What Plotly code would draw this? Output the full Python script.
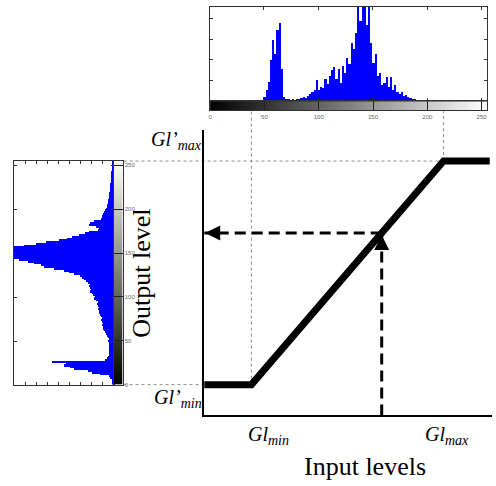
import numpy as np
import plotly.graph_objects as go

# ---------------- data ----------------
# Gray-level scale (0..255) shared by both histograms and the transfer curve
gray_levels = list(range(256))

# Input-image histogram (top): 2-level bins, height in % of the axis box
top_bin_start = list(range(46, 212, 2))
top_counts = [0.5, 2, 5, 12, 21, 44, 65, 50, 76, 83, 34, 5, 3, 3, 2, 3, 2, 3, 3, 4,
              5, 4, 6, 8, 10, 12, 23, 12, 15, 14, 24, 18, 27, 33, 36, 24, 34, 20, 37, 30,
              46, 40, 62, 55, 72, 110, 85, 110, 120, 81, 110, 62, 41, 50, 27, 30, 17, 20, 26, 15,
              26, 12, 17, 10, 8, 10, 6, 7, 5, 4, 3, 3, 2, 2, 1.5, 2, 1, 1.5, 1, 0.5,
              1, 0.5, 0.5]

# Output-image histogram (left, rotated): 2-level bins, length in % of the axis box
left_bin_start = list(range(0, 256, 2))
left_counts = [1, 1, 2, 2, 4, 5, 14, 22, 26, 40, 44, 50, 48, 62, 9, 7, 6, 5, 5, 5,
               5, 5, 5, 5, 5, 6, 5, 6, 7, 8, 9, 10, 11, 11, 12, 11, 12, 13, 12, 13,
               14, 15, 15, 16, 15, 16, 17, 16, 18, 20, 19, 21, 22, 24, 23, 24, 25, 24, 26, 28,
               30, 32, 34, 40, 45, 50, 60, 70, 73, 80, 86, 95, 110, 115, 120, 118, 115, 120, 110, 90,
               78, 68, 55, 47, 42, 35, 29, 25, 16, 15, 18, 25, 24, 20, 13, 12, 12, 11, 10, 9,
               8, 7, 7, 6, 6, 6, 5, 5, 5, 5, 4, 4, 4, 4, 4, 3, 3, 3, 3, 3,
               3, 3, 2, 2, 2, 2, 2, 2]

# Transfer function parameters
gl_min, gl_max = 38, 215          # input levels
gl_out_min, gl_out_max = 0, 255   # output levels
input_level = 158                 # example input level for the dashed arrows

colorbar_ticks = [0, 50, 100, 150, 200, 250]

# ---------------- layout geometry ----------------
W, H = 496, 486


def xdom(l, r):
    return [l / W, r / W]


def ydom(t, b):
    return [1 - b / H, 1 - t / H]


MAIN_XD, MAIN_YD = xdom(203, 492), ydom(131, 418)
MAIN_XR, MAIN_YR = [-5.5, 259.6], [-35.1, 290.2]
TOP_XD, TOP_YD, TOP_STRIP_YD = xdom(209, 487), ydom(7, 102), ydom(102, 111)
LEFT_XD, LEFT_STRIP_XD, LEFT_YD = xdom(12, 112), xdom(112, 121), ydom(162, 387)


def main_x_paper(v):
    return MAIN_XD[0] + (v - MAIN_XR[0]) / (MAIN_XR[1] - MAIN_XR[0]) * (MAIN_XD[1] - MAIN_XD[0])


def main_y_paper(v):
    return MAIN_YD[0] + (v - MAIN_YR[0]) / (MAIN_YR[1] - MAIN_YR[0]) * (MAIN_YD[1] - MAIN_YD[0])


curve_x = [MAIN_XR[0], gl_min, gl_max, 257.5]
curve_y = [gl_out_min, gl_out_min, gl_out_max, gl_out_max]
output_level = float(np.interp(input_level, curve_x, curve_y))

BLUE = "#0000ff"
fig = go.Figure()

# top histogram
fig.add_trace(go.Bar(x=[b + 1 for b in top_bin_start], y=top_counts, width=2,
                     marker=dict(color=BLUE, line=dict(width=0)),
                     xaxis="x2", yaxis="y2", showlegend=False))
# top gray strip
fig.add_trace(go.Heatmap(x=gray_levels, y=[0], z=[gray_levels], zmin=0, zmax=255,
                         colorscale=[[0, "black"], [1, "white"]], showscale=False,
                         xaxis="x3", yaxis="y3"))
# left histogram
fig.add_trace(go.Bar(y=[b + 1 for b in left_bin_start], x=left_counts, width=2, orientation="h",
                     marker=dict(color=BLUE, line=dict(width=0)),
                     xaxis="x4", yaxis="y4", showlegend=False))
# left gray strip
fig.add_trace(go.Heatmap(x=[0], y=gray_levels, z=[[g] for g in gray_levels], zmin=0, zmax=255,
                         colorscale=[[0, "black"], [1, "white"]], showscale=False,
                         xaxis="x5", yaxis="y5"))
# transfer curve
fig.add_trace(go.Scatter(x=curve_x, y=curve_y, mode="lines",
                         line=dict(color="black", width=7), showlegend=False))
# dashed guides
dash = dict(color="black", width=3, dash="11px,6px")
fig.add_trace(go.Scatter(x=[input_level, MAIN_XR[0]], y=[output_level, output_level],
                         mode="lines", line=dash, showlegend=False))
fig.add_trace(go.Scatter(x=[input_level, input_level], y=[MAIN_YR[0], output_level],
                         mode="lines", line=dash, showlegend=False))

# dotted connector lines
dot = dict(color="#8c8c8c", width=1, dash="dot")
top_strip_bottom = 1 - 112 / H
left_strip_right = 122 / W
head = dict(color="black", width=0)
shapes = [
    dict(type="line", xref="x", yref="paper", x0=gl_min, x1=gl_min,
         y0=main_y_paper(gl_out_min), y1=top_strip_bottom, line=dot, layer="below"),
    dict(type="line", xref="x", yref="paper", x0=gl_max, x1=gl_max,
         y0=main_y_paper(gl_out_max), y1=top_strip_bottom, line=dot, layer="below"),
    dict(type="line", xref="paper", yref="y", x0=left_strip_right, x1=main_x_paper(gl_max),
         y0=gl_out_max, y1=gl_out_max, line=dot, layer="below"),
    dict(type="line", xref="paper", yref="y", x0=left_strip_right, x1=MAIN_XD[0],
         y0=gl_out_min, y1=gl_out_min, line=dot, layer="below"),
    # arrow heads (pixel-sized triangles anchored at data points)
    dict(type="path", xref="x", yref="y", xsizemode="pixel", ysizemode="pixel",
         xanchor=MAIN_XR[0], yanchor=output_level, path="M1,0 L16,7.5 L16,-7.5 Z",
         fillcolor="black", line=head),
    dict(type="path", xref="x", yref="y", xsizemode="pixel", ysizemode="pixel",
         xanchor=input_level, yanchor=output_level, path="M0,-2 L-7.5,-17 L7.5,-17 Z",
         fillcolor="black", line=head),
]

SERIF = "Liberation Serif"
lab = dict(family=SERIF, size=20, color="black")
big = dict(family=SERIF, size=26, color="black")
annotations = [
    dict(x=MAIN_XD[0], xref="paper", xanchor="right", y=gl_out_max, yref="y", yanchor="middle",
         yshift=21, text="<i>Gl’<sub>max</sub></i>", showarrow=False, font=lab),
    dict(x=MAIN_XD[0], xref="paper", xanchor="right", y=gl_out_min, yref="y", yanchor="middle",
         yshift=-14, text="<i>Gl’<sub>min</sub></i>", showarrow=False, font=lab),
    dict(x=gl_min, xref="x", xanchor="center", xshift=17, y=1 - 438 / H, yref="paper",
         yanchor="middle", text="<i>Gl<sub>min</sub></i>", showarrow=False, font=lab),
    dict(x=gl_max, xref="x", xanchor="center", xshift=3, y=1 - 438 / H, yref="paper",
         yanchor="middle", text="<i>Gl<sub>max</sub></i>", showarrow=False, font=lab),
    dict(x=364 / W, y=1 - 469 / H, xref="paper", yref="paper", xanchor="center", yanchor="middle",
         text="Input levels", showarrow=False, font=big),
    dict(x=140 / W, y=1 - 275 / H, xref="paper", yref="paper", xanchor="center", yanchor="middle",
         text="Output level", textangle=-90, showarrow=False, font=big),
]

box = dict(showline=True, linecolor="#333333", linewidth=1, showgrid=False, zeroline=False)
tiny = dict(family="Arial", size=6, color="#666666")

fig.update_layout(
    width=W, height=H, autosize=False,
    margin=dict(l=0, r=0, t=0, b=0),
    paper_bgcolor="white", plot_bgcolor="rgba(0,0,0,0)",
    bargap=0, showlegend=False,
    shapes=shapes, annotations=annotations,
    xaxis=dict(domain=MAIN_XD, range=MAIN_XR, anchor="y", showline=True, linecolor="black",
               linewidth=2, showgrid=False, zeroline=False, showticklabels=False, ticks=""),
    yaxis=dict(domain=MAIN_YD, range=MAIN_YR, anchor="x", showline=True, linecolor="black",
               linewidth=2, showgrid=False, zeroline=False, showticklabels=False, ticks=""),
    xaxis2=dict(domain=TOP_XD, range=[1, 255], anchor="y2", mirror="ticks", ticks="inside",
                ticklen=3, tickcolor="#333333", tick0=0, dtick=50, showticklabels=False, **box),
    yaxis2=dict(domain=TOP_YD, range=[0, 100], anchor="x2", mirror="ticks", ticks="inside",
                ticklen=3, tickcolor="#333333", tick0=0, dtick=22, showticklabels=False, **box),
    xaxis3=dict(domain=TOP_XD, range=[0, 255], anchor="y3", mirror=True, ticks="inside",
                ticklen=9, tickcolor="#222222", tickvals=colorbar_ticks, tickfont=tiny, **box),
    yaxis3=dict(domain=TOP_STRIP_YD, range=[-0.5, 0.5], anchor="x3", mirror=True,
                showticklabels=False, ticks="", **box),
    xaxis4=dict(domain=LEFT_XD, range=[100, 0], anchor="y4", mirror="ticks", ticks="inside",
                ticklen=3, tickcolor="#333333", tick0=0, dtick=11, showticklabels=False, **box),
    yaxis4=dict(domain=LEFT_YD, range=[1, 255], anchor="x4", mirror="ticks", ticks="inside",
                ticklen=3, tickcolor="#333333", tick0=0, dtick=50, showticklabels=False, **box),
    xaxis5=dict(domain=LEFT_STRIP_XD, range=[-0.5, 0.5], anchor="y5", mirror=True,
                showticklabels=False, ticks="", **box),
    yaxis5=dict(domain=LEFT_YD, range=[0, 255], anchor="x5", side="right", mirror=True,
                ticks="inside", ticklen=9, tickcolor="#222222", tickvals=colorbar_ticks,
                tickfont=tiny, **box),
)

fig.write_html("out.html", config={"displayModeBar": False})
